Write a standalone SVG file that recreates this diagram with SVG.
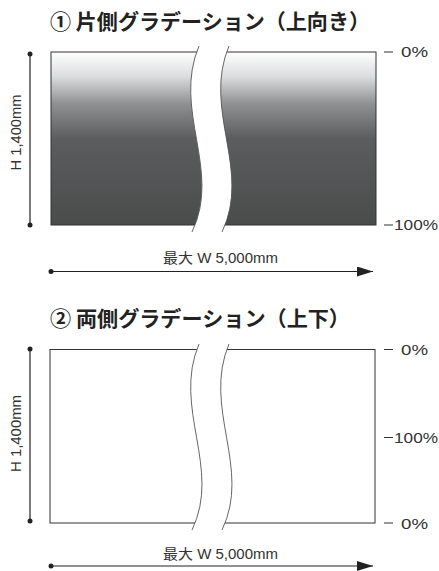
<svg xmlns="http://www.w3.org/2000/svg" width="439" height="571" viewBox="0 0 439 571">
<defs>
<linearGradient id="g1" x1="0" y1="0" x2="0" y2="1">
<stop offset="0" stop-color="#ffffff"/>
<stop offset="0.14" stop-color="#dcdddf"/>
<stop offset="0.3" stop-color="#8f9091"/>
<stop offset="0.5" stop-color="#5b5d5e"/>
<stop offset="1" stop-color="#4a4c4c"/>
</linearGradient>
<marker id="arr" viewBox="0 0 16 10" refX="16" refY="5" markerWidth="16" markerHeight="10" markerUnits="userSpaceOnUse" orient="auto">
<path d="M0,0 L16,5 L0,10 Z" fill="#222"/>
</marker>
</defs>
<style>
.title{font-family:"Noto Sans CJK JP","Noto Sans",sans-serif;font-weight:bold;font-size:21px;fill:#222}
.lbl{font-family:"Liberation Sans","Noto Sans CJK JP",sans-serif;font-size:14px;fill:#333}
.dim{font-family:"Liberation Sans","Noto Sans CJK JP",sans-serif;font-size:14px;fill:#333}
.box{stroke:#333;stroke-width:1}
.curve{fill:none;stroke:#555;stroke-width:0.9}
.gap{fill:#fff;stroke:none}
.tick{stroke:#333;stroke-width:1}
.dline{stroke:#222;stroke-width:1.2}
.dot{fill:#222}
</style>

<g id="panel1">
<text class="title" x="50" y="29" textLength="320" lengthAdjust="spacingAndGlyphs">① 片側グラデーション（上向き）</text>
<rect class="box" x="51" y="52" width="325" height="173" fill="url(#g1)"/>
<path class="gap" d="M199,46 C172,110 222,170 192,232 L222,232 C252,170 202,110 229,46 Z"/>
<path class="curve" d="M199,46 C172,110 222,170 192,232"/>
<path class="curve" d="M229,46 C202,110 252,170 222,232"/>
</g>

<g id="scale1">
<line class="tick" x1="384" y1="52" x2="393" y2="52"/>
<text class="lbl" x="401" y="57" textLength="27" lengthAdjust="spacingAndGlyphs">0%</text>
<line class="tick" x1="384" y1="225" x2="393" y2="225"/>
<text class="lbl" x="394" y="230" textLength="44" lengthAdjust="spacingAndGlyphs">100%</text>
</g>

<g id="panel2">
<text class="title" x="50" y="326" textLength="300" lengthAdjust="spacingAndGlyphs">② 両側グラデーション（上下）</text>
<rect class="box" x="50" y="349.5" width="325" height="173.5" fill="#fff"/>
<g transform="translate(0,298)">
<path class="gap" d="M199,46 C172,110 222,170 192,232 L222,232 C252,170 202,110 229,46 Z"/>
<path class="curve" d="M199,46 C172,110 222,170 192,232"/>
<path class="curve" d="M229,46 C202,110 252,170 222,232"/>
</g>
</g>

<g id="scale2">
<line class="tick" x1="384" y1="349.5" x2="393" y2="349.5"/>
<text class="lbl" x="401" y="355" textLength="27" lengthAdjust="spacingAndGlyphs">0%</text>
<line class="tick" x1="384" y1="437.5" x2="393" y2="437.5"/>
<text class="lbl" x="394" y="443" textLength="44" lengthAdjust="spacingAndGlyphs">100%</text>
<line class="tick" x1="384" y1="523" x2="393" y2="523"/>
<text class="lbl" x="401" y="528.5" textLength="27" lengthAdjust="spacingAndGlyphs">0%</text>
</g>

<g id="connectors">
<line class="dline" x1="30" y1="54" x2="30" y2="225"/>
<circle class="dot" cx="30" cy="54" r="2.5"/>
<circle class="dot" cx="30" cy="225" r="2.5"/>
<line class="dline" x1="51" y1="271.5" x2="373" y2="271.5" marker-end="url(#arr)"/>
<circle class="dot" cx="51" cy="271.5" r="2.5"/>
<line class="dline" x1="30" y1="349" x2="30" y2="521"/>
<circle class="dot" cx="30" cy="349" r="2.5"/>
<circle class="dot" cx="30" cy="521" r="2.5"/>
<line class="dline" x1="51" y1="566" x2="373" y2="566" marker-end="url(#arr)"/>
<circle class="dot" cx="51" cy="566" r="2.5"/>
</g>

<g id="labels">
<text class="dim" transform="translate(21,132.5) rotate(-90)" text-anchor="middle" textLength="76" lengthAdjust="spacingAndGlyphs">H 1,400mm</text>
<text class="dim" transform="translate(21,433.5) rotate(-90)" text-anchor="middle" textLength="77" lengthAdjust="spacingAndGlyphs">H 1,400mm</text>
<text class="dim" x="220.5" y="263" text-anchor="middle" textLength="115" lengthAdjust="spacingAndGlyphs">最大 W 5,000mm</text>
<text class="dim" x="220.5" y="558.5" text-anchor="middle" textLength="115" lengthAdjust="spacingAndGlyphs">最大 W 5,000mm</text>
</g>
</svg>
